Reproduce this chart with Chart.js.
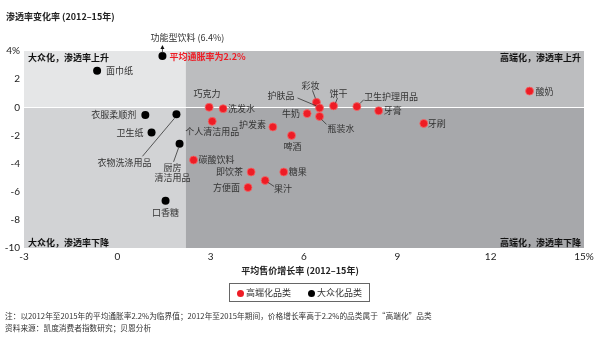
<!DOCTYPE html>
<html>
<head>
<meta charset="utf-8">
<script src="https://cdn.jsdelivr.net/npm/chart.js@4/dist/chart.umd.min.js"></script>
<style>
  html, body { margin: 0; padding: 0; background: #fff; }
  #wrap { position: relative; width: 600px; height: 341px; font-family: "Noto Sans CJK SC", sans-serif; color: #333; }
  #wrap canvas { position: absolute; left: 0; top: 0; }
  .ytitle { position: absolute; left: 6px; top: 10px; font-size: 9px; font-weight: bold; color: #222; white-space: nowrap; }
  .xtitle { position: absolute; left: 0; width: 600px; top: 264px; text-align: center; font-size: 9px; font-weight: bold; color: #222; }
  .legend { position: absolute; left: 229px; top: 283px; width: 139px; height: 17px; border: 1px solid #666; font-size: 9px; line-height: 17px; }
  .legend span { position: absolute; top: 0; white-space: nowrap; }
  .legend i { display: inline-block; width: 7px; height: 7px; border-radius: 50%; margin-right: 2px; vertical-align: -0.5px; }
  .note { position: absolute; left: 5px; font-size: 7.7px; color: #333; white-space: nowrap; }
</style>
</head>
<body>
<div id="wrap">
  <canvas id="chart"></canvas>
  <div class="ytitle">渗透率变化率 (2012–15年)</div>
  <div class="xtitle">平均售价增长率 (2012–15年)</div>
  <div class="legend">
    <span style="left:7px"><i style="background:#ee1c25"></i>高端化品类</span>
    <span style="left:78px"><i style="background:#000"></i>大众化品类</span>
  </div>
  <div class="note" style="top:310px">注：以2012年至2015年的平均通胀率2.2%为临界值；2012年至2015年期间，价格增长率高于2.2%的品类属于“高端化”品类</div>
  <div class="note" style="top:322px">资料来源：凯度消费者指数研究；贝恩分析</div>
</div>
<script>
// data (x: price growth %, y: penetration change %)
const inflationRate = 2.2;

const premiumNames = ['巧克力', '洗发水', '个人清洁用品', '护发素', '啤酒', '碳酸饮料', '即饮茶', '糖果', '果汁', '方便面',
  '牛奶', '彩妆', '护肤品', '瓶装水', '饼干', '卫生护理用品', '牙膏', '牙刷', '酸奶'];
const premiumGrowth = [2.95, 3.4, 3.05, 5.0, 5.6, 2.45, 4.3, 5.35, 4.75, 4.2,
  6.1, 6.4, 6.5, 6.5, 6.95, 7.7, 8.4, 9.85, 13.25];
const premiumPenetration = [0.0, -0.1, -1.0, -1.4, -2.0, -3.75, -4.6, -4.6, -5.2, -5.7,
  -0.45, 0.35, -0.05, -0.65, 0.1, 0.05, -0.25, -1.15, 1.15];

const massNames = ['功能型饮料', '面巾纸', '衣服柔顺剂', '衣物洗涤用品', '卫生纸', '厨房清洁用品', '口香糖'];
const massGrowth = [1.45, -0.65, 0.9, 1.9, 1.1, 2.0, 1.55];
const massPenetration = [6.4, 2.6, -0.55, -0.5, -1.8, -2.6, -6.65];

const xTicks = [-3, 0, 3, 6, 9, 12, 15];
const yTicks = [-10, -8, -6, -4, -2, 0, 2, 4];

// where each label sits relative to its dot (px), and optional leader line
const labelLayout = {
  '面巾纸': { dx: 9, dy: 0, align: 'left' },
  '衣服柔顺剂': { dx: -9, dy: 0, align: 'right' },
  '卫生纸': { dx: -8, dy: 0, align: 'right' },
  '衣物洗涤用品': { dx: -52, dy: 48, align: 'center', line: [-2, 4, -34, 42] },
  '厨房清洁用品': { dx: -7, dy: 24, align: 'center', text: ['厨房', '清洁用品'], line: [-1, 4, -6, 18] },
  '口香糖': { dx: 0, dy: 12, align: 'center' },
  '功能型饮料': { dx: 25, dy: -18, align: 'center', text: ['功能型饮料 (6.4%)'], arrow: true },
  '巧克力': { dx: -2, dy: -14, align: 'center' },
  '洗发水': { dx: 5, dy: 0, align: 'left' },
  '个人清洁用品': { dx: 0, dy: 10, align: 'center' },
  '护发素': { dx: -7, dy: -2, align: 'right' },
  '啤酒': { dx: 1, dy: 11, align: 'center' },
  '碳酸饮料': { dx: 5, dy: 0, align: 'left' },
  '即饮茶': { dx: -8, dy: 0, align: 'right' },
  '糖果': { dx: 5, dy: 0, align: 'left' },
  '果汁': { dx: 9, dy: 8, align: 'left', line: [3, 2, 9, 6] },
  '方便面': { dx: -8, dy: 0, align: 'right' },
  '牛奶': { dx: -7, dy: 0, align: 'right' },
  '彩妆': { dx: -6, dy: -17, align: 'center', line: [-1, -4, -4, -12] },
  '护肤品': { dx: -25, dy: -12, align: 'right', line: [-3, -2, -22, -10] },
  '瓶装水': { dx: 8, dy: 12, align: 'left', line: [2, 3, 7, 8] },
  '饼干': { dx: 5, dy: -12, align: 'center', line: [2, -3, 4, -8] },
  '卫生护理用品': { dx: 7, dy: -10, align: 'left', line: [3, -3, 7, -7] },
  '牙膏': { dx: 5, dy: 0, align: 'left' },
  '牙刷': { dx: 4, dy: 0, align: 'left' },
  '酸奶': { dx: 6, dy: 0, align: 'left' }
};

const yMax = 4, yMin = -10;
const offScale = 3.65; // off-chart values are pinned near the top edge

const quadrantPlugin = {
  id: 'quadrants',
  beforeDraw(chart) {
    const { ctx, chartArea: { left, right, top, bottom }, scales: { x, y } } = chart;
    const xm = x.getPixelForValue(inflationRate);
    const y0 = y.getPixelForValue(0);
    ctx.save();
    ctx.fillStyle = '#e5e6e7'; ctx.fillRect(left, top, xm - left, y0 - top);
    ctx.fillStyle = '#d2d3d5'; ctx.fillRect(left, y0, xm - left, bottom - y0);
    ctx.fillStyle = '#bcbdbf'; ctx.fillRect(xm, top, right - xm, y0 - top);
    ctx.fillStyle = '#a7a8ab'; ctx.fillRect(xm, y0, right - xm, bottom - y0);
    ctx.strokeStyle = '#ffffff';
    ctx.lineWidth = 1;
    ctx.beginPath();
    ctx.moveTo(left, Math.round(y0) + 0.5);
    ctx.lineTo(right, Math.round(y0) + 0.5);
    ctx.stroke();

    ctx.font = 'bold 9px "Noto Sans CJK SC"';
    ctx.fillStyle = '#111';
    ctx.textBaseline = 'middle';
    ctx.textAlign = 'left';
    ctx.fillText('大众化，渗透率上升', left + 4, top + 7);
    ctx.fillText('大众化，渗透率下降', left + 4, bottom - 5);
    ctx.textAlign = 'right';
    ctx.fillText('高端化，渗透率上升', right - 3, top + 7);
    ctx.fillText('高端化，渗透率下降', right - 3, bottom - 5);
    ctx.restore();
  },
  afterDatasetsDraw(chart) {
    const { ctx, scales: { x } } = chart;
    ctx.save();
    ctx.font = '9px "Noto Sans CJK SC"';
    ctx.textBaseline = 'middle';
    ctx.strokeStyle = '#333';
    ctx.lineWidth = 0.8;
    chart.data.datasets.forEach((ds, di) => {
      const meta = chart.getDatasetMeta(di);
      meta.data.forEach((pt, i) => {
        const name = ds.names[i];
        const lay = labelLayout[name] || { dx: 6, dy: 0, align: 'left' };
        if (lay.line) {
          ctx.beginPath();
          ctx.moveTo(pt.x + lay.line[0], pt.y + lay.line[1]);
          ctx.lineTo(pt.x + lay.line[2], pt.y + lay.line[3]);
          ctx.stroke();
        }
        if (lay.arrow) {
          ctx.beginPath();
          ctx.moveTo(pt.x, pt.y - 3);
          ctx.lineTo(pt.x, pt.y - 9);
          ctx.stroke();
          ctx.fillStyle = '#111';
          ctx.beginPath();
          ctx.moveTo(pt.x, pt.y - 11);
          ctx.lineTo(pt.x - 2, pt.y - 7);
          ctx.lineTo(pt.x + 2, pt.y - 7);
          ctx.closePath();
          ctx.fill();
        }
        const lines = lay.text || [name];
        ctx.fillStyle = '#333';
        ctx.textAlign = lay.align;
        lines.forEach((t, k) => ctx.fillText(t, pt.x + lay.dx, pt.y + lay.dy + k * 10));
      });
    });
    // inflation note next to the cut-off line
    const pinned = chart.getDatasetMeta(1).data[0];
    ctx.font = 'bold 9px "Noto Sans CJK SC"';
    ctx.fillStyle = '#ee1c25';
    ctx.textAlign = 'left';
    ctx.fillText('平均通胀率为2.2%', pinned.x + 7, pinned.y + 1);
    ctx.restore();
  }
};

const toPoints = (xs, ys) => xs.map((v, i) => ({ x: v, y: Math.min(ys[i], offScale) }));

new Chart(document.getElementById('chart'), {
  type: 'scatter',
  data: {
    datasets: [{
      label: '高端化品类',
      names: premiumNames,
      data: toPoints(premiumGrowth, premiumPenetration),
      backgroundColor: '#ee1c25',
      borderColor: '#f26a6a',
      borderWidth: 0.8,
      pointRadius: 4,
      pointHoverRadius: 4
    }, {
      label: '大众化品类',
      names: massNames,
      data: toPoints(massGrowth, massPenetration),
      backgroundColor: '#000',
      borderWidth: 0,
      pointRadius: 4,
      pointHoverRadius: 4
    }]
  },
  options: {
    responsive: true,
    maintainAspectRatio: false,
    animation: false,
    layout: { padding: { top: 51, left: 0, right: 16, bottom: 73 } },
    plugins: { legend: { display: false }, tooltip: { enabled: false } },
    scales: {
      x: {
        type: 'linear',
        min: xTicks[0],
        max: xTicks[xTicks.length - 1],
        grid: { display: false, drawTicks: false },
        border: { display: false },
        afterBuildTicks: s => { s.ticks = xTicks.map(v => ({ value: v })); },
        afterFit: s => { s.height = 20; },
        ticks: {
          padding: 3,
          maxRotation: 0,
          autoSkip: false,
          color: '#222',
          font: { family: 'Lato', size: 10 },
          callback: v => v === 15 ? '15%' : v
        }
      },
      y: {
        min: yMin,
        max: yMax,
        grid: { display: false, drawTicks: false },
        border: { display: false },
        afterBuildTicks: s => { s.ticks = yTicks.map(v => ({ value: v })); },
        afterFit: s => { s.width = 24; },
        ticks: {
          padding: 4,
          autoSkip: false,
          color: '#222',
          font: { family: 'Lato', size: 10 },
          callback: v => v === 4 ? '4%' : v
        }
      }
    }
  },
  plugins: [quadrantPlugin]
});
</script>
</body>
</html>
